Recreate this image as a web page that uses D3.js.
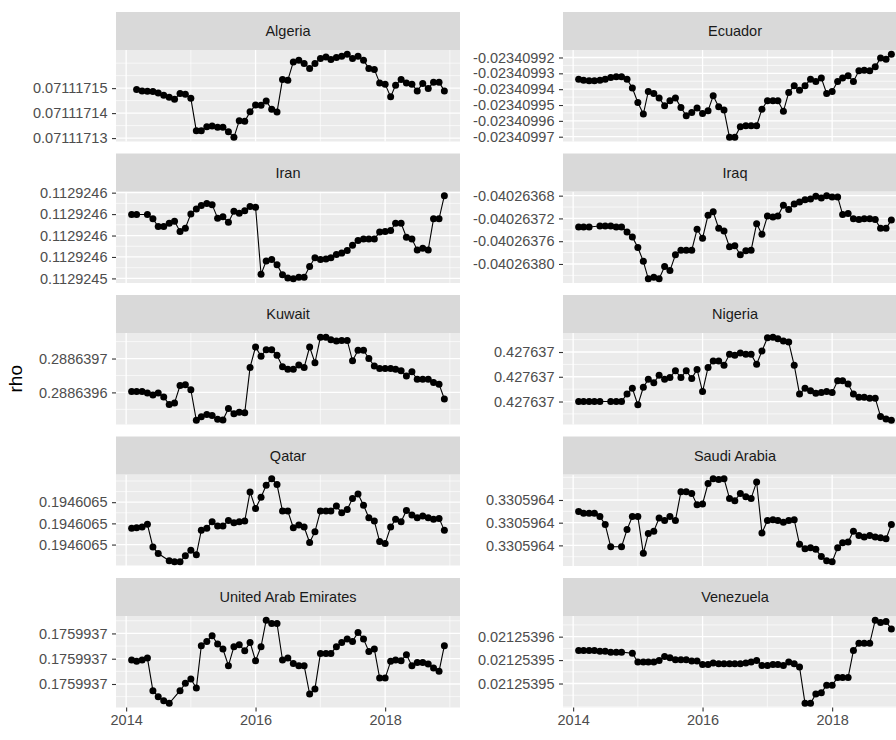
<!DOCTYPE html>
<html>
<head>
<meta charset="utf-8">
<script src="https://cdn.jsdelivr.net/npm/d3@7"></script>
<style>
  html, body { margin: 0; padding: 0; background: #ffffff; }
  svg { display: block; }
</style>
</head>
<body>
<svg id="chart" width="896" height="740"></svg>
<script>
// Monthly observations, February 2014 to December 2018
const months = d3.range(59).map(i => new Date(2014, 1 + i, 1));

const countries = ["Algeria", "Ecuador", "Iran", "Iraq", "Kuwait",
                   "Nigeria", "Qatar", "Saudi Arabia", "United Arab Emirates", "Venezuela"];

// rho = level + offset * unit (offsets keep the tiny variations readable)
const levels = [0.07111715, -0.02340992, 0.11292455, -0.04026368, 0.2886396,
                0.42763698, 0.19460648, 0.330596398, 0.175993698, 0.021253945];
const units  = [1e-8, 1e-8, 2.5e-9, 1e-8, 1e-8, 1e-8, 1e-8, 1e-9, 1e-9, 1e-9];

// offsets per month (null = no observation that month)
const algeria = [null, -0.05, -0.11, -0.12, -0.13, -0.19, -0.28, -0.37, -0.45, -0.21,
  -0.24, -0.41, -1.71, -1.71, -1.55, -1.52, -1.57, -1.57, -1.75, -1.97,
  -1.31, -1.33, -0.95, -0.68, -0.69, -0.52, -0.85, -0.96, 0.35, 0.32,
  1.05, 1.12, 0.99, 0.79, 0.99, 1.19, 1.25, 1.15, 1.23, 1.28,
  1.36, 1.19, 1.28, 1.12, 0.79, 0.75, 0.21, 0.16, -0.35, 0.12,
  0.35, 0.21, 0.16, -0.11, 0.19, -0.01, 0.24, 0.24, -0.11];
const ecuador = [-1.37, -1.43, -1.47, -1.47, -1.43, -1.37, -1.26, -1.22, -1.22, -1.37,
  -1.93, -2.84, -3.57, -2.14, -2.27, -2.56, -3.05, -2.73, -2.56, -3.15,
  -3.68, -3.47, -3.19, -3.53, -3.36, -2.42, -3.11, -3.32, -5.04, -5.04,
  -4.37, -4.31, -4.31, -4.31, -3.26, -2.73, -2.73, -2.73, -3.40, -2.21,
  -1.79, -2.06, -1.79, -1.37, -1.51, -1.30, -2.27, -2.14, -1.51, -1.30,
  -1.16, -1.51, -0.84, -0.80, -0.84, -0.59, -0.04, -0.11, 0.21];
const iran = [2.98, 2.98, null, 2.98, 2.78, 2.42, 2.42, 2.57, 2.67, 2.19,
  2.34, 3.01, 3.24, 3.40, 3.50, 3.44, 2.81, 2.88, 2.62, 3.13,
  3.04, 3.16, 3.35, 3.32, 0.19, 0.81, 0.88, 0.64, 0.17, 0.02,
  -0.02, 0.06, 0.06, 0.56, 0.96, 0.88, 0.91, 0.96, 1.12, 1.18,
  1.30, 1.55, 1.77, 1.84, 1.84, 1.84, 2.16, 2.19, 2.23, 2.57,
  2.57, 1.92, 1.84, 1.33, 1.41, 1.33, 2.78, 2.78, 3.86];
const iraq = [-5.51, -5.51, -5.51, null, -5.33, -5.33, -5.33, -5.51, -5.51, -6.38,
  -7.25, -9.10, -11.54, -14.61, -14.32, -14.61, -12.46, -13.16, -10.38, -9.57,
  -9.57, -9.57, -5.91, -7.48, -3.42, -2.84, -5.74, -6.20, -8.99, -8.81,
  -10.38, -9.68, -9.57, -4.93, -6.78, -3.59, -3.77, -3.59, -1.68, -2.43,
  -1.45, -1.10, -0.70, -0.58, -0.12, -0.41, 0, -0.23, -0.23, -3.30,
  -3.13, -4.06, -4.17, -4.06, -4.06, -4.17, -5.74, -5.74, -4.29];
const kuwait = [0.29, 0.29, 0.29, -0.19, -0.78, -0.19, -1.36, -3.59, -3.11, 2.04,
  2.23, 0.78, -8.25, -7.18, -6.50, -6.80, -7.96, -8.16, -4.76, -6.31,
  -5.83, -6.02, 7.38, 13.40, 10.68, 12.62, 12.62, 10.97, 7.57, 6.80,
  6.80, 8.06, 7.38, 13.40, 8.74, 16.31, 16.31, 15.53, 15.15, 15.34,
  15.34, 9.32, 12.43, 12.43, 10.00, 7.77, 7.09, 7.09, 7.09, 6.80,
  6.41, 4.85, 6.12, 3.88, 3.88, 3.88, 2.91, 2.43, -1.94];
const nigeria = [0, 0, 0, 0, 0, null, 0, 0, 0, 0.61,
  1.07, -0.27, 1.15, 1.79, 1.52, 2.13, 1.79, 1.95, 2.48, 1.95,
  2.48, 1.87, 2.59, 0.80, 2.75, 3.28, 3.28, 2.93, 3.81, 3.73,
  3.92, 3.81, 3.81, 3.01, 4.08, 5.15, 5.20, 5.07, 4.88, 4.80,
  2.93, 0.61, 1.07, 0.88, 0.67, 0.72, 0.80, 0.72, 1.68, 1.68,
  1.41, 0.61, 0.35, 0.35, 0.27, 0.27, -1.20, -1.41, -1.52];
const qatar = [1.53, 1.59, 1.66, 1.91, -0.22, -0.84, null, -1.53, -1.63, -1.63,
  -1.06, -0.53, -0.97, 1.34, 1.53, 2.16, 1.75, 1.75, 2.28, 2.06,
  2.16, 2.22, 4.97, 3.41, 4.47, 5.59, 6.22, 5.66, 3.16, 3.16,
  1.59, 1.84, 1.66, 0.19, 1.22, 3.16, 3.16, 3.16, 3.63, 3.00,
  3.31, 4.34, 4.78, 3.72, 2.53, 2.22, 0.28, 0.09, 1.66, 2.38,
  2.16, 3.22, 2.78, 2.53, 2.69, 2.53, 2.38, 2.47, 1.34];
const saudiArabia = [2.99, 2.84, 2.84, 2.84, 2.55, 1.83, -0.12, null, -0.12, 1.39,
  2.55, 2.55, -0.70, 1.04, 1.25, 2.41, 2.20, 2.55, 2.20, 4.72,
  4.72, 4.58, 3.57, 3.65, 5.45, 5.88, 5.80, 5.88, 4.14, 3.94,
  4.58, 4.29, 4.14, 5.59, 1.10, 2.20, 2.26, 2.20, 2.03, 2.20,
  2.26, 0.09, -0.29, -0.20, -0.35, -0.99, -1.36, -1.45, -0.20, 0.23,
  0.29, 1.25, 0.87, 0.75, 0.87, 0.75, 0.67, 0.58, 1.83];
const uae = [1.89, 1.79, 1.89, 2.05, -0.53, -1.00, -1.32, -1.53, null, -0.53,
  0.05, 0.39, -0.32, 3.03, 3.37, 3.82, 3.16, 2.76, 1.45, 2.95,
  3.11, 2.63, 3.29, 1.84, 2.95, 5.05, 4.79, 4.79, 1.89, 2.05,
  1.63, 1.45, 1.45, -0.79, -0.39, 2.42, 2.42, 2.42, 2.95, 3.29,
  3.55, 3.37, 4.08, 3.55, 2.58, 2.76, 0.47, 0.47, 1.79, 1.89,
  1.84, 2.32, 1.45, 1.71, 1.71, 1.58, 1.26, 1.00, 3.03];
const venezuela = [7.04, 7.04, 7.04, 7.04, 6.90, 6.90, 6.69, 6.69, 6.69, null,
  6.48, 4.58, 4.58, 4.58, 4.58, 4.93, 5.77, 5.49, 5.07, 5.07,
  5.07, 4.79, 4.79, 4.08, 4.08, 4.37, 4.23, 4.23, 4.23, 4.23,
  4.23, 4.37, 4.58, 4.93, 3.87, 3.87, 4.08, 4.08, 3.87, 4.58,
  4.23, 3.52, -4.23, -4.23, -2.25, -1.97, -0.35, -0.35, 1.27, 1.27,
  1.27, 7.04, 8.59, 8.59, 8.59, 13.52, 13.03, 13.24, 11.62];

const offsets = [algeria, ecuador, iran, iraq, kuwait, nigeria, qatar, saudiArabia, uae, venezuela];

// y-axis breaks and their printed labels (7 significant digits)
const yTicks = [
  [0.07111713, 0.07111714, 0.07111715],
  [-0.02340997, -0.02340996, -0.02340995, -0.02340994, -0.02340993, -0.02340992],
  [0.11292455, 0.1129245525, 0.112924555, 0.1129245575, 0.11292456],
  [-0.0402638, -0.04026376, -0.04026372, -0.04026368],
  [0.2886396, 0.2886397],
  [0.42763698, 0.427637, 0.42763702],
  [0.19460648, 0.1946065, 0.19460652],
  [0.330596398, 0.3305964, 0.330596402],
  [0.175993698, 0.1759937, 0.175993702],
  [0.021253945, 0.02125395, 0.021253955]
];
const yTickLabels = [
  ["0.07111713", "0.07111714", "0.07111715"],
  ["-0.02340997", "-0.02340996", "-0.02340995", "-0.02340994", "-0.02340993", "-0.02340992"],
  ["0.1129245", "0.1129246", "0.1129246", "0.1129246", "0.1129246"],
  ["-0.04026380", "-0.04026376", "-0.04026372", "-0.04026368"],
  ["0.2886396", "0.2886397"],
  ["0.427637", "0.427637", "0.427637"],
  ["0.1946065", "0.1946065", "0.1946065"],
  ["0.3305964", "0.3305964", "0.3305964"],
  ["0.1759937", "0.1759937", "0.1759937"],
  ["0.02125395", "0.02125395", "0.02125396"]
];

const xTickYears = [2014, 2016, 2018];
const xTickLabels = ["2014", "2016", "2018"];
const yTitle = "rho";

// ---- layout ----
const svg = d3.select("#chart");
const FONT = "'Liberation Sans', Arial, Helvetica, sans-serif";
const colLeft = [116, 563];
const panelW = 344;
const firstTop = 12, rowStep = 141.5, stripH = 38, panelH = 91.5;
const nRows = 5;

// ggplot-style minor breaks: midpoints of the majors, extended one step past each end
function minorBreaks(major, lo, hi) {
  const b = major.slice().sort((a, c) => a - c);
  const bd = b[1] - b[0];
  if (lo < b[0]) b.unshift(b[0] - bd);
  if (hi > b[b.length - 1]) b.push(b[b.length - 1] + bd);
  const out = [];
  for (let i = 0; i < b.length - 1; i++) out.push(b[i], (b[i] + b[i + 1]) / 2);
  out.push(b[b.length - 1]);
  const eps = Math.abs(bd) * 1e-6;
  return out.filter(v => v >= lo && v <= hi && !major.some(m => Math.abs(m - v) < eps));
}

// shared date scale domain with 5% expansion
const dExt = d3.extent(months);
const dPad = (dExt[1] - dExt[0]) * 0.05;
const xDomain = [new Date(+dExt[0] - dPad), new Date(+dExt[1] + dPad)];
const xMajor = xTickYears.map(y => new Date(y, 0, 1));
const xMinor = minorBreaks(xMajor.map(d => +d), +xDomain[0], +xDomain[1]).map(v => new Date(v));

countries.forEach((name, k) => {
  const col = k % 2, row = Math.floor(k / 2);
  const left = colLeft[col];
  const stripTop = firstTop + row * rowStep;
  const pTop = stripTop + stripH;
  const pBottom = pTop + panelH;

  const data = months.map((d, i) => ({ date: d, off: offsets[k][i] }))
    .filter(p => p.off !== null)
    .map(p => ({ date: p.date, rho: levels[k] + p.off * units[k] }));

  const x = d3.scaleTime().domain(xDomain).range([left, left + panelW]);
  const yExt = d3.extent(data, d => d.rho);
  const yPad = (yExt[1] - yExt[0]) * 0.05;
  const y = d3.scaleLinear().domain([yExt[0] - yPad, yExt[1] + yPad]).range([pBottom, pTop]);

  const g = svg.append("g");

  // panel background
  g.append("rect").attr("x", left).attr("y", pTop).attr("width", panelW).attr("height", panelH)
    .attr("fill", "#EBEBEB");

  // minor grid
  const yMinor = minorBreaks(yTicks[k], y.domain()[0], y.domain()[1]);
  g.selectAll(null).data(yMinor).enter().append("line")
    .attr("x1", left).attr("x2", left + panelW)
    .attr("y1", d => y(d)).attr("y2", d => y(d))
    .attr("stroke", "#ffffff").attr("stroke-width", 0.65);
  g.selectAll(null).data(xMinor).enter().append("line")
    .attr("x1", d => x(d)).attr("x2", d => x(d))
    .attr("y1", pTop).attr("y2", pBottom)
    .attr("stroke", "#ffffff").attr("stroke-width", 0.65);

  // major grid
  g.selectAll(null).data(yTicks[k]).enter().append("line")
    .attr("x1", left).attr("x2", left + panelW)
    .attr("y1", d => y(d)).attr("y2", d => y(d))
    .attr("stroke", "#ffffff").attr("stroke-width", 1.3);
  g.selectAll(null).data(xMajor).enter().append("line")
    .attr("x1", d => x(d)).attr("x2", d => x(d))
    .attr("y1", pTop).attr("y2", pBottom)
    .attr("stroke", "#ffffff").attr("stroke-width", 1.3);

  // series line and points
  const line = d3.line().x(d => x(d.date)).y(d => y(d.rho));
  g.append("path").datum(data).attr("d", line)
    .attr("fill", "none").attr("stroke", "#000000").attr("stroke-width", 1.1);
  g.selectAll(null).data(data).enter().append("circle")
    .attr("cx", d => x(d.date)).attr("cy", d => y(d.rho)).attr("r", 3.5)
    .attr("fill", "#000000");

  // strip
  g.append("rect").attr("x", left).attr("y", stripTop).attr("width", panelW).attr("height", stripH)
    .attr("fill", "#D9D9D9");
  g.append("text").attr("x", left + panelW / 2).attr("y", stripTop + stripH / 2)
    .attr("dy", "0.35em").attr("text-anchor", "middle")
    .attr("font-family", FONT).attr("font-size", 14.5).attr("fill", "#1A1A1A")
    .text(name);

  // y axis
  const yAxis = d3.axisLeft(y).tickValues(yTicks[k])
    .tickFormat((d, i) => yTickLabels[k][i]).tickSizeOuter(0).tickSize(4).tickPadding(4.5);
  const ya = svg.append("g").attr("transform", `translate(${left},0)`).call(yAxis);
  ya.select(".domain").remove();
  ya.selectAll(".tick line").attr("stroke", "#333333").attr("stroke-width", 1.1);
  ya.selectAll(".tick text").attr("font-family", FONT).attr("font-size", 14.5).attr("fill", "#4D4D4D");

  // x axis on the bottom row
  if (row === nRows - 1) {
    const xAxis = d3.axisBottom(x).tickValues(xMajor)
      .tickFormat((d, i) => xTickLabels[i]).tickSizeOuter(0).tickSize(4).tickPadding(3.5);
    const xa = svg.append("g").attr("transform", `translate(0,${pBottom})`).call(xAxis);
    xa.select(".domain").remove();
    xa.selectAll(".tick line").attr("stroke", "#333333").attr("stroke-width", 1.1);
    xa.selectAll(".tick text").attr("font-family", FONT).attr("font-size", 14.5).attr("fill", "#4D4D4D");
  }
});

// y-axis title, centred on the panel area
const panelsTop = firstTop + stripH;
const panelsBottom = firstTop + (nRows - 1) * rowStep + stripH + panelH;
svg.append("text")
  .attr("transform", `translate(22,${(panelsTop + panelsBottom) / 2}) rotate(-90)`)
  .attr("text-anchor", "middle")
  .attr("font-family", FONT).attr("font-size", 19).attr("fill", "#000000")
  .text(yTitle);
</script>
</body>
</html>
